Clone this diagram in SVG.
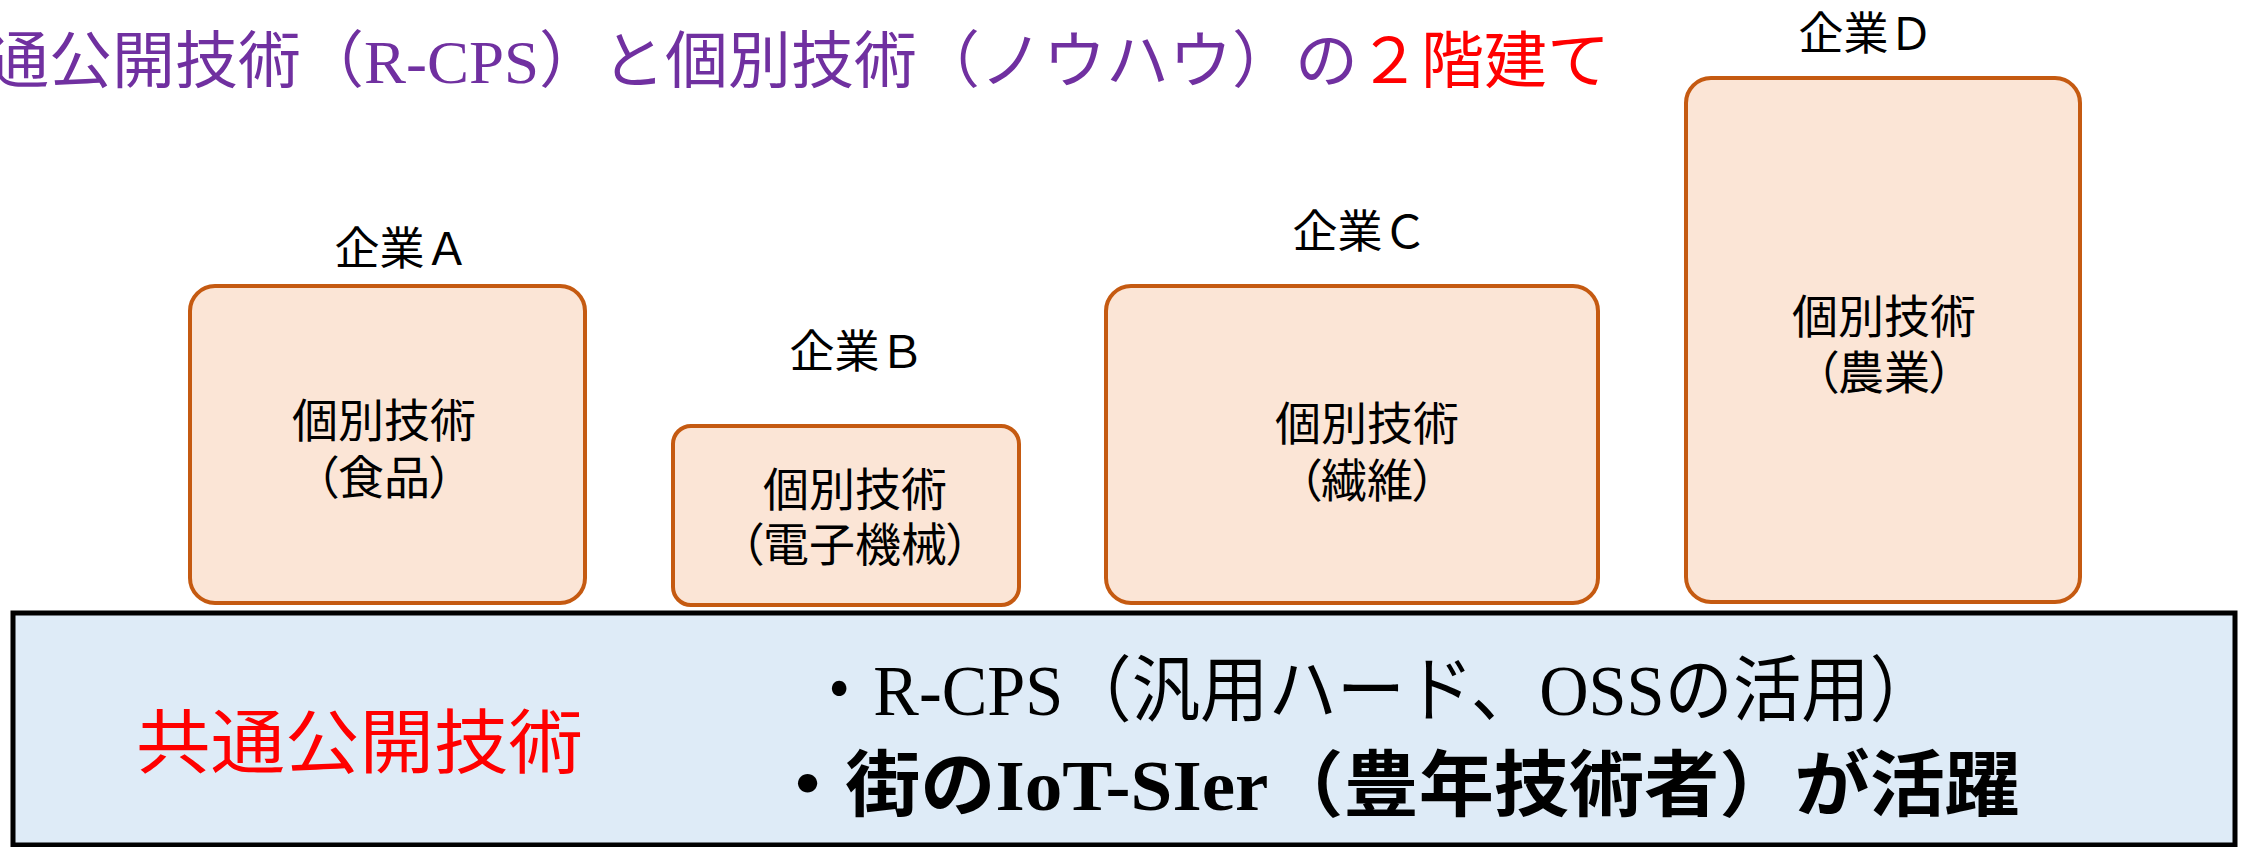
<svg xmlns="http://www.w3.org/2000/svg" width="2242" height="847" viewBox="0 0 2242 847">
<style>
.serif{font-family:"Liberation Serif","Noto Sans CJK JP",serif}
.sans{font-family:"Noto Sans CJK JP",sans-serif;font-feature-settings:"palt"}
.box{fill:#FBE5D6;stroke:#C55A11;stroke-width:4}
.lbl{font-size:45px;fill:#000;text-anchor:middle}
.btxt{font-size:46px;fill:#000;text-anchor:middle}
</style>
<rect width="2242" height="847" fill="#fff"/>
<text class="serif" x="-14" y="83" font-size="62" fill="#7030A0" textLength="1624" lengthAdjust="spacingAndGlyphs">通公開技術（R-CPS）と個別技術（ノウハウ）の<tspan fill="#FF0000">２階建て</tspan></text>

<g id="base">
<rect x="13" y="613" width="2222" height="232" fill="#DEEBF7" stroke="#000" stroke-width="5"/>
<text class="serif" x="136" y="768" font-size="70" fill="#FF0000" textLength="447" lengthAdjust="spacingAndGlyphs">共通公開技術</text>
<text class="serif" x="805" y="715" font-size="72" fill="#000" textLength="1133" lengthAdjust="spacingAndGlyphs">・R-CPS（汎用ハード、OSSの活用）</text>
<text class="serif" x="770" y="810" font-size="72" font-weight="700" fill="#000" textLength="1250" lengthAdjust="spacingAndGlyphs">・街のIoT-SIer（豊年技術者）が活躍</text>
</g>

<g id="companyA">
<text class="serif lbl" x="402" y="265">企業Ａ</text>
<rect class="box" x="190" y="286" width="395" height="317" rx="25"/>
<text class="sans btxt" x="384" y="437">個別技術</text>
<text class="sans btxt" x="384" y="494">（食品）</text>
</g>

<g id="companyB">
<text class="serif lbl" x="857" y="368">企業Ｂ</text>
<rect class="box" x="673" y="426" width="346" height="179" rx="18"/>
<text class="sans btxt" x="855" y="506">個別技術</text>
<text class="sans btxt" x="855" y="561">（電子機械）</text>
</g>

<g id="companyC">
<text class="serif lbl" x="1360" y="248">企業Ｃ</text>
<rect class="box" x="1106" y="286" width="492" height="317" rx="25"/>
<text class="sans btxt" x="1367" y="440">個別技術</text>
<text class="sans btxt" x="1367" y="497">（繊維）</text>
</g>

<g id="companyD">
<text class="serif lbl" x="1866" y="50">企業Ｄ</text>
<rect class="box" x="1686" y="78" width="394" height="524" rx="25"/>
<text class="sans btxt" x="1884" y="333">個別技術</text>
<text class="sans btxt" x="1884" y="389">（農業）</text>
</g>

<g id="connectors"></g>
</svg>
